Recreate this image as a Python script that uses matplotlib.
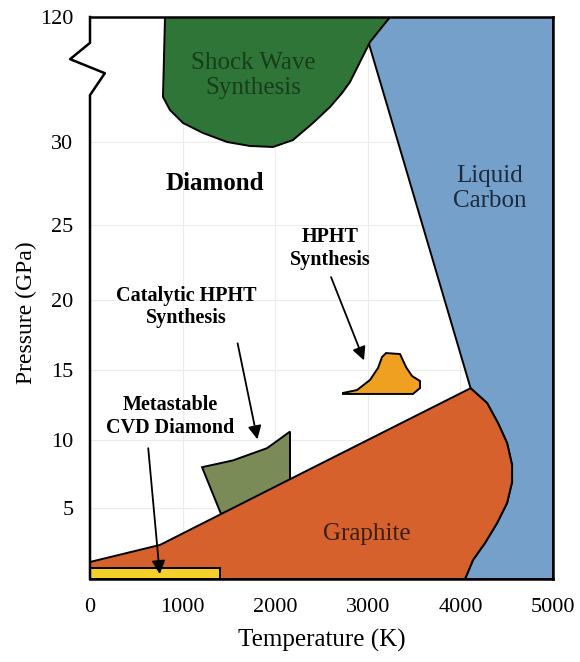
import numpy as np
import matplotlib
matplotlib.use("Agg")
import matplotlib.pyplot as plt
from matplotlib.patches import Polygon

plt.rcParams['font.family'] = ['Liberation Serif', 'DejaVu Serif']

# broken pressure axis: knots of tick positions (GPa -> relative height)
p_knots = [0, 5, 10, 15, 20, 25, 30, 120]
h_knots = [0, 71, 139, 209, 279, 354, 437, 562]

x_ticks = [0, 1000, 2000, 3000, 4000, 5000]
y_ticks = [5, 10, 15, 20, 25, 30, 120]

# region outlines (Temperature K, Pressure GPa)
melt_T = [4110, 4288, 4406, 4504, 4558, 4558, 4504, 4396, 4266, 4136, 4050]
melt_P = [13.7, 12.64, 11.21, 9.78, 8.16, 6.91, 5.37, 3.94, 2.54, 1.34, 0]

liquid_T = [3240, 3002, 3326] + melt_T + [5000, 5000]
liquid_P = [120, 103, 30] + melt_P + [0, 120]

graphite_T = [0, 0, 756, 2300] + melt_T
graphite_P = [0, 1.2, 2.4, 7.6] + melt_P

cvd_T = [0, 0, 1404, 1404]
cvd_P = [0, 0.77, 0.77, 0]

cat_T = [1210, 1544, 1912, 2160, 2160, 1426]
cat_P = [8.0, 8.5, 9.4, 10.6, 6.9, 4.4]

hpht_T = [2732, 2884, 3024, 3110, 3154, 3197, 3348, 3413, 3478, 3564, 3564, 3488, 2732]
hpht_P = [13.36, 13.57, 14.29, 15.14, 15.93, 16.21, 16.14, 15.21, 14.57, 14.21, 13.71, 13.29, 13.29]

shock_T = [810, 788, 864, 1004, 1220, 1480, 1728, 1976, 2192, 2408, 2592, 2722, 2808, 3024, 3240]
shock_P = [120, 62.4, 53.0, 43.7, 36.5, 30.0, 29.76, 29.7, 31.4, 43.7, 55.2, 65.3, 73.2, 102, 120]


def fwd(p):
    p = np.asarray(p, dtype=float)
    out = np.interp(p, p_knots, h_knots)
    out = np.where(p < 0, p * 71 / 5, out)
    out = np.where(p > 120, 562 + (p - 120) * 125 / 90, out)
    return out


def inv(h):
    h = np.asarray(h, dtype=float)
    out = np.interp(h, h_knots, p_knots)
    out = np.where(h < 0, h * 5 / 71, out)
    out = np.where(h > 562, 120 + (h - 562) * 90 / 125, out)
    return out


fig = plt.figure(figsize=(5.8, 6.62), dpi=100)
ax = fig.add_axes([90 / 580, 83 / 662, 463 / 580, 562 / 662])
ax.set_yscale('function', functions=(fwd, inv))
ax.set_xlim(0, 5000)
ax.set_ylim(0, 120)

for xv in x_ticks[1:-1]:
    ax.axvline(xv, color='#ececec', lw=0.8, zorder=0)
for yv in y_ticks[:-1]:
    ax.axhline(yv, color='#ececec', lw=0.8, zorder=0)

ax.add_patch(Polygon(np.column_stack([liquid_T, liquid_P]), closed=True,
                     facecolor='#74a0ca', edgecolor='black', lw=1.4, zorder=1))
ax.add_patch(Polygon(np.column_stack([cat_T, cat_P]), closed=True,
                     facecolor='#7b8b57', edgecolor='black', lw=1.4, zorder=1.5))
ax.add_patch(Polygon(np.column_stack([graphite_T, graphite_P]), closed=True,
                     facecolor='#d6612c', edgecolor='black', lw=1.4, zorder=2))
ax.add_patch(Polygon(np.column_stack([cvd_T, cvd_P]), closed=True,
                     facecolor='#f4d12a', edgecolor='black', lw=1.4, zorder=3))
ax.add_patch(Polygon(np.column_stack([hpht_T, hpht_P]), closed=True,
                     facecolor='#f0a020', edgecolor='black', lw=1.4, zorder=2))
ax.add_patch(Polygon(np.column_stack([shock_T, shock_P]), closed=True,
                     facecolor='#2f7537', edgecolor='black', lw=1.4, zorder=2))

# labels
ax.text(1350, 27.5, 'Diamond', fontsize=18, fontweight='bold', ha='center', va='center', zorder=5)
ax.text(1760, 78, 'Shock Wave\nSynthesis', fontsize=18, color='#173d1c', ha='center', va='center', zorder=5)
ax.text(4320, 27.2, 'Liquid\nCarbon', fontsize=18, color='#1c2b3d', ha='center', va='center', zorder=5)
ax.text(2992, 3.2, 'Graphite', fontsize=18, color='#3a1e10', ha='center', va='center', zorder=5)
ax.text(2592, 23.4, 'HPHT\nSynthesis', fontsize=14.5, fontweight='bold', ha='center', va='center', zorder=5)
ax.text(1037, 19.5, 'Catalytic HPHT\nSynthesis', fontsize=14.5, fontweight='bold', ha='center', va='center', zorder=5)
ax.text(864, 11.7, 'Metastable\nCVD Diamond', fontsize=14.5, fontweight='bold', ha='center', va='center', zorder=5)

arrow = dict(arrowstyle='-|>', color='black', lw=1.3, mutation_scale=20)
ax.annotate('', xy=(2970, 15.5), xytext=(2592, 21.7), arrowprops=arrow, zorder=6)
ax.annotate('', xy=(1814, 9.85), xytext=(1588, 17.1), arrowprops=arrow, zorder=6)
ax.annotate('', xy=(756, 0.15), xytext=(626, 9.6), arrowprops=arrow, zorder=6)

# axes frame with break mark on the pressure axis
for s in ['top', 'right', 'bottom']:
    ax.spines[s].set_linewidth(1.8)
    ax.spines[s].set_zorder(7)
ax.spines['left'].set_visible(False)
bx = [0, 0, -0.043, 0.032, 0, 0]
by = [1, 0.954, 0.925, 0.900, 0.861, 0]
ax.plot(bx, by, transform=ax.transAxes, color='black', lw=1.8, clip_on=False, zorder=7)

ax.set_xticks(x_ticks)
ax.set_yticks(y_ticks)
ax.tick_params(length=0, labelsize=16)
ax.tick_params(axis='x', pad=14)
ax.tick_params(axis='y', pad=12)
ax.set_xlabel('Temperature (K)', fontsize=18, labelpad=8)
ax.set_ylabel('Pressure (GPa)', fontsize=17)
ax.yaxis.set_label_coords(-0.115, 0.473)

fig.savefig('out.png', dpi=100)
